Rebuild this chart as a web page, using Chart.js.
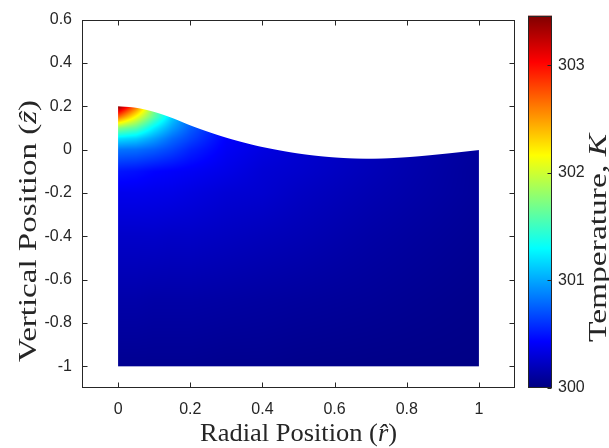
<!DOCTYPE html>
<html>
<head>
<meta charset="utf-8">
<script src="https://cdn.jsdelivr.net/npm/chart.js@4.4.1/dist/chart.umd.min.js"></script>
<style>
  html, body { margin: 0; padding: 0; background: #fff; }
  #wrap { position: relative; width: 609px; height: 448px; }
  #wrap canvas { position: absolute; left: 0; top: 0; }
</style>
</head>
<body>
<div id="wrap">
  <canvas id="field" width="609" height="448"></canvas>
  <canvas id="colorbar" width="609" height="448"></canvas>
</div>
<script>
// temperature range of the colour scale (K)
const tempMin = 300;
const tempMax = 303.46;
const tempTicks = [300, 301, 302, 303];

const xTicks = [0, 0.2, 0.4, 0.6, 0.8, 1];
const yTicks = [-1, -0.8, -0.6, -0.4, -0.2, 0, 0.2, 0.4, 0.6];

// free surface height z(r)
const surfaceR = [0, 0.05, 0.1, 0.15, 0.2, 0.25, 0.3, 0.35, 0.4, 0.5, 0.6, 0.7, 0.8, 0.9, 1.0];
const surfaceZ = [0.200, 0.193, 0.174, 0.146, 0.112, 0.082, 0.055, 0.032, 0.012, -0.018, -0.036, -0.042, -0.035, -0.020, -0.002];

// temperature table, one row per gridZ level, one column per gridR
const gridR = [0, 0.05, 0.1, 0.15, 0.2, 0.3, 0.4, 0.5, 0.7, 1.0];
const gridZ = [0.2, 0.15, 0.1, 0.05, 0, -0.1, -0.2, -0.4, -0.7, -1.0];
const temperature = [
  [303.45, 302.67, 301.76, 301.19, 300.83, 300.50, 300.37, 300.29, 300.21, 300.10],
  [302.67, 302.13, 301.60, 301.13, 300.81, 300.48, 300.37, 300.29, 300.21, 300.10],
  [301.76, 301.60, 301.25, 300.97, 300.75, 300.44, 300.36, 300.29, 300.21, 300.10],
  [301.19, 301.13, 300.97, 300.79, 300.66, 300.42, 300.35, 300.28, 300.20, 300.10],
  [300.83, 300.81, 300.75, 300.66, 300.55, 300.40, 300.33, 300.28, 300.20, 300.10],
  [300.50, 300.48, 300.44, 300.42, 300.40, 300.35, 300.29, 300.26, 300.19, 300.09],
  [300.37, 300.37, 300.36, 300.35, 300.33, 300.29, 300.27, 300.23, 300.17, 300.09],
  [300.25, 300.25, 300.25, 300.24, 300.24, 300.22, 300.20, 300.18, 300.13, 300.07],
  [300.14, 300.14, 300.13, 300.13, 300.13, 300.12, 300.11, 300.10, 300.08, 300.04],
  [300.06, 300.06, 300.06, 300.06, 300.06, 300.05, 300.05, 300.04, 300.03, 300.02],
];

const xTitle = [{ text: 'Radial Position (' }, { text: 'r\u0302', italic: true }, { text: ')' }];
const yTitle = [{ text: 'Vertical Position (' }, { text: 'z\u0302', italic: true }, { text: ')' }];
const cTitle = [{ text: 'Temperature, ' }, { text: 'K', italic: true }];

const INK = '#262626';
const tickFont = { family: '"Liberation Sans", Arial, sans-serif', size: 16 };

// MATLAB style jet colormap, t in [0,1]
function jet(t) {
  const f = v => Math.max(0, Math.min(1, v));
  return [f(1.5 - Math.abs(4 * t - 3)), f(1.5 - Math.abs(4 * t - 2)), f(1.5 - Math.abs(4 * t - 1))];
}

function findCell(arr, v) {
  // arr may be ascending or descending
  for (let i = 0; i < arr.length - 1; i++) {
    const a = arr[i], b = arr[i + 1];
    if ((v - a) * (v - b) <= 0) return [i, (v - a) / (b - a)];
  }
  return v < Math.min(arr[0], arr[arr.length - 1]) === (arr[0] < arr[1]) ? [0, 0] : [arr.length - 2, 1];
}

function tempAt(r, z) {
  const [i, u] = findCell(gridR, r);
  const [j, v] = findCell(gridZ, z);
  const t00 = temperature[j][i], t01 = temperature[j][i + 1];
  const t10 = temperature[j + 1][i], t11 = temperature[j + 1][i + 1];
  return (t00 * (1 - u) + t01 * u) * (1 - v) + (t10 * (1 - u) + t11 * u) * v;
}

// smooth curve through the surface samples (cubic hermite)
const surfaceSlope = surfaceR.map((r, i) => {
  const a = Math.max(0, i - 1), b = Math.min(surfaceR.length - 1, i + 1);
  return (surfaceZ[b] - surfaceZ[a]) / (surfaceR[b] - surfaceR[a]);
});
function surfaceAt(r) {
  const [i, t] = findCell(surfaceR, r);
  const h = surfaceR[i + 1] - surfaceR[i];
  const t2 = t * t, t3 = t2 * t;
  return (2 * t3 - 3 * t2 + 1) * surfaceZ[i] + (t3 - 2 * t2 + t) * h * surfaceSlope[i]
    + (-2 * t3 + 3 * t2) * surfaceZ[i + 1] + (t3 - t2) * h * surfaceSlope[i + 1];
}

// paints the interpolated temperature field inside the liquid domain
const fieldLayer = {
  id: 'fieldLayer',
  beforeDatasetsDraw(chart) {
    const { ctx, scales: { x, y } } = chart;
    const r0 = surfaceR[0], r1 = surfaceR[surfaceR.length - 1];
    const zBot = gridZ[gridZ.length - 1];
    const xL = x.getPixelForValue(r0), xR = x.getPixelForValue(r1);
    const yB = y.getPixelForValue(zBot);
    const left = Math.floor(xL), right = Math.ceil(xR);
    const top = Math.floor(y.getPixelForValue(Math.max(...surfaceZ))) - 1;
    const bottom = Math.ceil(yB);
    const w = right - left, h = bottom - top;
    const off = document.createElement('canvas');
    off.width = w; off.height = h;
    const octx = off.getContext('2d');
    const img = octx.createImageData(w, h);
    for (let i = 0; i < w; i++) {
      const px = left + i;
      const cx = Math.max(0, Math.min(px + 1, xR) - Math.max(px, xL));
      if (cx <= 0) continue;
      const r = Math.max(r0, Math.min(r1, x.getValueForPixel(px + 0.5)));
      const zs = surfaceAt(r);
      const ys = y.getPixelForValue(zs);
      for (let j = 0; j < h; j++) {
        const py = top + j;
        const cy = Math.max(0, Math.min(py + 1, yB) - Math.max(py, ys));
        if (cy <= 0) continue;
        const z = Math.max(zBot, Math.min(zs, y.getValueForPixel(py + 0.5)));
        const t = (tempAt(r, z) - tempMin) / (tempMax - tempMin);
        const c = jet(t);
        const k = (j * w + i) * 4;
        img.data[k] = Math.round(c[0] * 255);
        img.data[k + 1] = Math.round(c[1] * 255);
        img.data[k + 2] = Math.round(c[2] * 255);
        img.data[k + 3] = Math.round(255 * cx * cy);
      }
    }
    octx.putImageData(img, 0, 0);
    ctx.drawImage(off, left, top);
  }
};

// centred label with mixed upright/italic runs; font at `size`,
// then stretched along the text direction to cover `span` pixels
function drawRich(ctx, parts, size, span) {
  const fontAt = p => `${p.italic ? 'italic ' : ''}${size}px "Liberation Serif", "Times New Roman", serif`;
  const widths = parts.map(p => { ctx.font = fontAt(p); return ctx.measureText(p.text).width; });
  const total = widths.reduce((s, v) => s + v, 0);
  ctx.scale(span / total, 1);
  let pos = -total / 2;
  parts.forEach((p, i) => {
    ctx.font = fontAt(p);
    ctx.fillText(p.text, pos, 0);
    pos += widths[i];
  });
}

// box, inward ticks on all four sides, axis titles
const axesFrame = {
  id: 'axesFrame',
  afterDraw(chart) {
    const { ctx, chartArea: a, scales: { x, y } } = chart;
    const L = Math.round(a.left) + 0.5, R = Math.round(a.right) - 0.5;
    const T = Math.round(a.top) + 0.5, B = Math.round(a.bottom) - 0.5;
    ctx.save();
    ctx.strokeStyle = INK;
    ctx.lineWidth = 1;
    ctx.strokeRect(L, T, R - L, B - T);
    ctx.beginPath();
    x.ticks.forEach(t => {
      const p = Math.round(x.getPixelForValue(t.value)) + 0.5;
      ctx.moveTo(p, B); ctx.lineTo(p, B - 5);
      ctx.moveTo(p, T); ctx.lineTo(p, T + 5);
    });
    y.ticks.forEach(t => {
      const p = Math.round(y.getPixelForValue(t.value)) + 0.5;
      ctx.moveTo(L, p); ctx.lineTo(L + 5, p);
      ctx.moveTo(R, p); ctx.lineTo(R - 5, p);
    });
    ctx.stroke();

    ctx.fillStyle = INK;
    ctx.textAlign = 'left';
    ctx.textBaseline = 'alphabetic';
    ctx.save();
    ctx.translate((a.left + a.right) / 2, 441);
    drawRich(ctx, xTitle, 25, 197);
    ctx.restore();
    ctx.save();
    ctx.translate(36, 231);
    ctx.rotate(-Math.PI / 2);
    drawRich(ctx, yTitle, 25, 262);
    ctx.restore();
    ctx.restore();
  }
};

const noGrid = { display: false, drawTicks: false };

new Chart(document.getElementById('field'), {
  type: 'scatter',
  data: {
    datasets: [{
      data: surfaceR.map((r, i) => ({ x: r, y: surfaceZ[i] })),
      pointRadius: 0,
      showLine: false
    }]
  },
  options: {
    responsive: false,
    animation: false,
    layout: { padding: { left: 0, right: 94, top: 14, bottom: 0 } },
    plugins: { legend: { display: false }, tooltip: { enabled: false } },
    scales: {
      x: {
        type: 'linear',
        min: -0.1,
        max: 1.1,
        grid: noGrid,
        border: { display: false },
        afterBuildTicks: s => { s.ticks = xTicks.map(v => ({ value: v })); },
        afterFit: s => { s.height = 60; },
        ticks: { padding: 12, color: INK, font: tickFont, maxRotation: 0, callback: v => String(v) }
      },
      y: {
        type: 'linear',
        min: -1.1,
        max: 0.6,
        grid: noGrid,
        border: { display: false },
        afterBuildTicks: s => { s.ticks = yTicks.map(v => ({ value: v })); },
        afterFit: s => { s.width = 82; },
        ticks: { padding: 10, color: INK, font: tickFont, callback: v => String(v) }
      }
    }
  },
  plugins: [fieldLayer, axesFrame]
});

// jet gradient spanning the colour bar
function jetGradient(c) {
  const { ctx, chartArea } = c.chart;
  if (!chartArea) return 'rgba(0,0,0,0)';
  const g = ctx.createLinearGradient(0, chartArea.bottom, 0, chartArea.top);
  for (let k = 0; k <= 64; k++) {
    const col = jet(k / 64);
    g.addColorStop(k / 64, `rgb(${col.map(v => Math.round(v * 255)).join(',')})`);
  }
  return g;
}

const colorbarFrame = {
  id: 'colorbarFrame',
  afterDraw(chart) {
    const { ctx, chartArea: a, scales: { y } } = chart;
    const L = Math.round(a.left) + 0.5, R = Math.round(a.right) - 0.5;
    const T = Math.round(a.top) + 0.5, B = Math.round(a.bottom) - 0.5;
    ctx.save();
    ctx.strokeStyle = INK;
    ctx.lineWidth = 1;
    ctx.strokeRect(L, T, R - L, B - T);
    ctx.beginPath();
    y.ticks.forEach(t => {
      const p = Math.round(y.getPixelForValue(t.value)) + 0.5;
      ctx.moveTo(R, p); ctx.lineTo(R - 4, p);
    });
    ctx.stroke();
    ctx.fillStyle = INK;
    ctx.textAlign = 'left';
    ctx.textBaseline = 'alphabetic';
    ctx.translate(606, 238);
    ctx.rotate(-Math.PI / 2);
    drawRich(ctx, cTitle, 25, 208);
    ctx.restore();
  }
};

new Chart(document.getElementById('colorbar'), {
  type: 'bar',
  data: {
    labels: ['T'],
    datasets: [{
      data: [[tempMin, tempMax]],
      backgroundColor: jetGradient,
      borderWidth: 0,
      barPercentage: 1,
      categoryPercentage: 1
    }]
  },
  options: {
    responsive: false,
    animation: false,
    layout: { padding: { left: 528, right: 0, top: 14, bottom: 60 } },
    plugins: { legend: { display: false }, tooltip: { enabled: false } },
    scales: {
      x: { display: false },
      y: {
        position: 'right',
        min: tempMin,
        max: tempMax,
        grid: noGrid,
        border: { display: false },
        afterBuildTicks: s => { s.ticks = tempTicks.map(v => ({ value: v })); },
        afterFit: s => { s.width = 57; },
        ticks: { padding: 6, color: INK, font: tickFont, callback: v => String(v) }
      }
    }
  },
  plugins: [colorbarFrame]
});
</script>
</body>
</html>
